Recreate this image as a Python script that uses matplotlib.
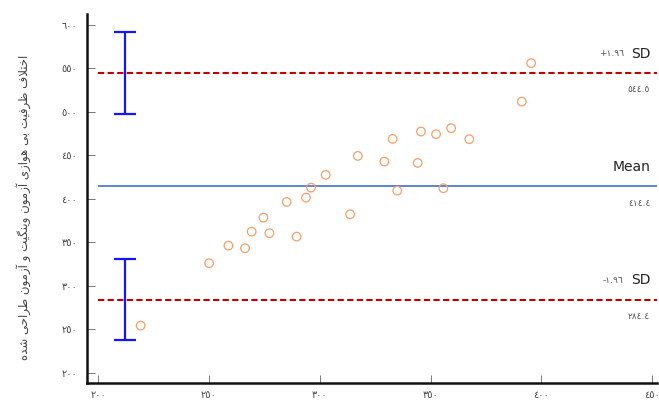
import unicodedata
import matplotlib
matplotlib.use('Agg')
import matplotlib.pyplot as plt

# میانگین دو آزمون (محور افقی) و اختلاف آنها (محور عمودی)
mean_vals = [219.2, 250.1, 258.8, 266.3, 269.3, 274.6, 277.3, 285.1, 289.6,
             293.8, 296.1, 302.7, 313.7, 317.2, 329.2, 332.9, 335.0, 344.2,
             345.7, 352.5, 355.8, 359.3, 367.5, 391.2, 395.4]
diff_vals = [254.4, 326.1, 346.3, 343.3, 362.4, 378.5, 360.6, 396.5, 356.7,
             401.5, 413.0, 427.6, 382.4, 449.4, 442.9, 469.0, 409.5, 441.4,
             477.4, 474.4, 412.3, 481.3, 468.6, 511.8, 556.0]

bias = 414.4
upper_loa = 544.5
lower_loa = 284.4
loa_ci = 47.0          # نیم‌پهنای فاصله اطمینان حدود توافق
ci_x = 212

x_ticks = [200, 250, 300, 350, 400, 450]
y_ticks = [200, 250, 300, 350, 400, 450, 500, 550, 600]
y_title = 'اختلاف ظرفیت بی هوازی آزمون وینگیت و آزمون طراحی شده'


# شکل‌دهی حروف فارسی (matplotlib حروف را به هم وصل نمی‌کند)
def build_forms():
    forms = {}
    for cp in list(range(0xFB50, 0xFE00)) + list(range(0xFE70, 0xFF00)):
        d = unicodedata.decomposition(chr(cp))
        if not d.startswith('<'):
            continue
        parts = d.split()
        tag = parts[0][1:-1]
        if tag not in ('isolated', 'final', 'initial', 'medial'):
            continue
        key = ''.join(chr(int(c, 16)) for c in parts[1:])
        forms.setdefault(key, {}).setdefault(tag, chr(cp))
    return forms


FORMS = build_forms()


def joins_next(ch):
    return ch in FORMS and 'initial' in FORMS[ch]


def joins_prev(ch):
    return ch in FORMS and 'final' in FORMS[ch]


def shape_fa(text):
    out = []
    n = len(text)
    i = 0
    while i < n:
        ch = text[i]
        prev = text[i - 1] if i > 0 else ''
        linked_prev = joins_next(prev) and joins_prev(ch)
        # لام الف
        if ch == 'ل' and i + 1 < n and (ch + text[i + 1]) in FORMS:
            lig = FORMS[ch + text[i + 1]]
            out.append(lig['final'] if linked_prev else lig['isolated'])
            i += 2
            continue
        nxt = text[i + 1] if i + 1 < n else ''
        linked_next = joins_next(ch) and joins_prev(nxt)
        if ch not in FORMS:
            out.append(ch)
        elif linked_prev and linked_next:
            out.append(FORMS[ch]['medial'])
        elif linked_prev:
            out.append(FORMS[ch]['final'])
        elif linked_next:
            out.append(FORMS[ch]['initial'])
        else:
            out.append(FORMS[ch].get('isolated', ch))
        i += 1
    return ''.join(reversed(out))


def fa_num(v):
    return str(v).translate(str.maketrans('0123456789', '٠١٢٣٤٥٦٧٨٩'))


plt.rcParams['font.family'] = ['DejaVu Sans']

fig = plt.figure(figsize=(6.59, 4.03), dpi=100)
ax = fig.add_axes([0.132, 0.0496, 0.865, 0.916])

ax.set_xlim(195.0, 452.2)
ax.set_ylim(188.5, 612.6)

# خطوط میانگین و حدود توافق
ax.hlines(bias, 200, 452.2, colors='#4472c4', linewidth=1.2)
ax.hlines([upper_loa, lower_loa], 200, 452.2, colors='#c00000',
          linewidth=1.5, linestyles=[(0, (3, 1.6))])

# فاصله اطمینان حدود توافق
ax.errorbar([ci_x, ci_x], [upper_loa, lower_loa], yerr=[loa_ci, loa_ci],
            fmt='none', ecolor='#1414ff', elinewidth=1.6, capsize=8,
            capthick=1.6)

ax.scatter(mean_vals, diff_vals, s=38, facecolors='none',
           edgecolors='#f4a06a', linewidths=0.9, zorder=3)

# برچسب‌های سمت راست
lab_x = 0.988
for yv, name, num in [(upper_loa, 'SD', '+1.96'), (bias, 'Mean', None),
                      (lower_loa, 'SD', '-1.96')]:
    ax.annotate(name, xy=(lab_x, yv), xycoords=('axes fraction', 'data'),
                xytext=(0, 14), textcoords='offset points', ha='right',
                va='center', fontsize=10, color='#222222')
    if num is not None:
        ax.annotate(fa_num(num), xy=(lab_x, yv),
                    xycoords=('axes fraction', 'data'),
                    xytext=(-19, 14), textcoords='offset points', ha='right',
                    va='center', fontsize=6.5, color='#555555')
    ax.annotate(fa_num(yv), xy=(lab_x, yv), xycoords=('axes fraction', 'data'),
                xytext=(0, -12), textcoords='offset points', ha='right',
                va='center', fontsize=6.5, color='#555555')

ax.set_xticks(x_ticks)
ax.set_xticklabels([fa_num(v) for v in x_ticks])
ax.set_yticks(y_ticks)
ax.set_yticklabels([fa_num(v) for v in y_ticks])

ax.tick_params(axis='both', direction='in', length=6, width=0.7,
               colors='#777777', labelsize=7, labelcolor='#444444')
ax.tick_params(axis='y', pad=7)
ax.tick_params(axis='x', pad=5)

for side in ['top', 'right']:
    ax.spines[side].set_visible(False)
for side in ['left', 'bottom']:
    ax.spines[side].set_linewidth(1.8)
    ax.spines[side].set_color('#111111')

fig.text(0.036, 0.485, shape_fa(y_title), rotation=90, ha='center',
         va='center', fontsize=8.5, color='#444444')

fig.savefig('out.png', dpi=100)
